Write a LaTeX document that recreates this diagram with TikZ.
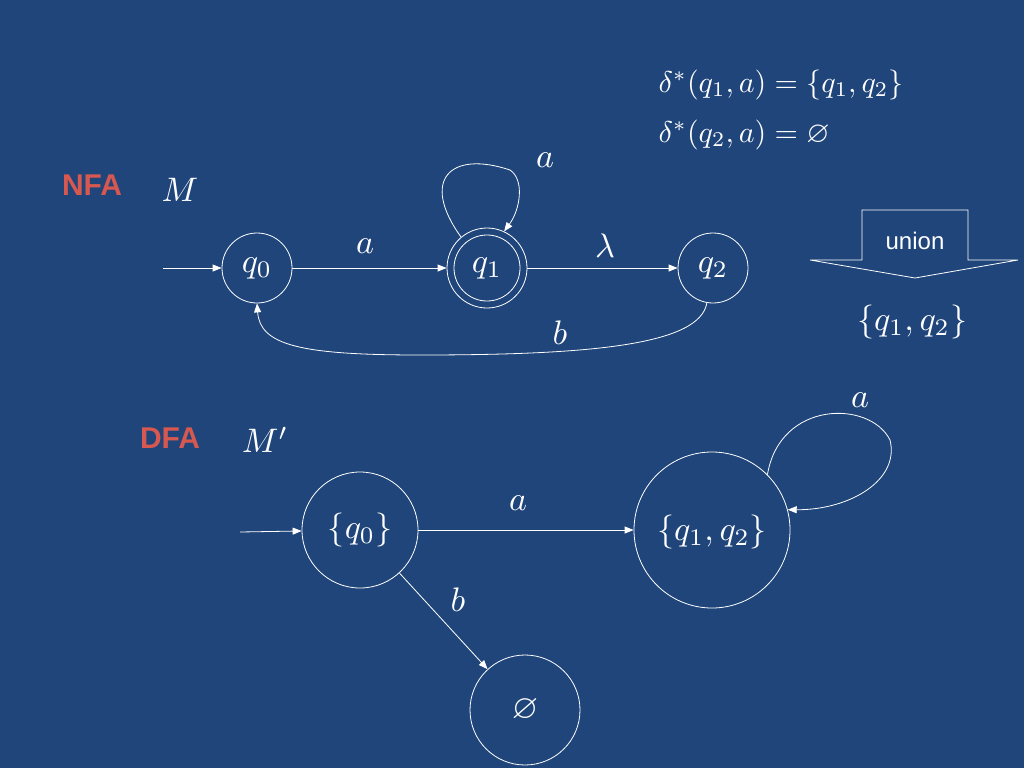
\documentclass[tikz,border=0pt]{standalone}
\usepackage{graphicx}
\usepackage{amssymb}
\usepackage{fontspec}
\newfontfamily\lab{Liberation Sans}
\newcommand\mm[1]{\scalebox{3.4}{$#1$}}
\newcommand\mf[1]{\scalebox{3}{$#1$}}
\usetikzlibrary{arrows.meta,shapes.arrows}
\definecolor{bg}{RGB}{31,69,122}
\definecolor{rd}{RGB}{214,88,80}
\begin{document}
\begin{tikzpicture}[x=1pt,y=-1pt,white,line width=0.8pt,
  st/.style={draw=white,circle,inner sep=0pt},
  ar/.style={-{Triangle[length=9pt,width=7pt]}},
  lb/.style={text=white},
  tag/.style={text=rd,font=\lab\bfseries\fontsize{30}{34}\selectfont}]
\fill[bg] (0,0) rectangle (1024,768);
\useasboundingbox (0,0) rectangle (1024,768);
% NFA
\node[tag] (nfa) at (92,185) {NFA};
\node[lb] (m) at (180,190) {\mm{M}};
\node[st,minimum size=70pt] (q0) at (257,268) {};
\node[lb] at (257,268) {\mm{q_0}};
\node[st,minimum size=80pt] (q1) at (487,268) {};
\node[st,minimum size=66pt] at (487,268) {};
\node[lb] at (487,268) {\mm{q_1}};
\node[st,minimum size=70pt] (q2) at (713,268) {};
\node[lb] at (713,268) {\mm{q_2}};
\coordinate (s0) at (163,268);
\draw[ar] (s0) -- (q0);
\draw[ar] (q0) -- (q1);
\draw[ar] (q1) -- (q2);
\draw[ar] (q1.130) .. controls (420,180) and (450,150) .. (510,170) .. controls (525,180) and (520,210).. (q1.65);
\draw[ar] (q2.-100) .. controls (700,345) and (590,355) .. (420,355) .. controls (300,355) and (260,345) .. (q0.-90);
\node[lb] at (365,246) {\mm{a}};
\node[lb] at (605,246) {\mm{\lambda}};
\node[lb] at (560,333) {\mm{b}};
\node[lb] at (545,160) {\mm{a}};
% formula
\node[lb,anchor=west] (f1) at (655,85) {\mf{\delta^{*}(q_1,a)=\{q_1,q_2\}}};
\node[lb,anchor=west] (f2) at (655,135) {\mf{\delta^{*}(q_2,a)=\varnothing}};
% union
\draw[fill=bg] (862,210) -- (968,210) -- (968,260) -- (1018,260) -- (915,278) -- (810,260) -- (862,260) -- cycle;
\node[text=white,font=\lab\fontsize{24}{28}\selectfont] (un) at (915,241) {union};
\node[lb] (u) at (912,322) {\mm{\{q_1,q_2\}}};
% DFA
\node[tag] (dfa) at (170,438) {DFA};
\node[lb] (mp) at (265,440) {\mm{M'}};
\node[st,minimum size=116pt] (d0) at (360,530) {};
\node[lb] at (360,530) {\mm{\{q_0\}}};
\node[st,minimum size=156pt] (d1) at (712,530) {};
\node[lb] at (712,532) {\mm{\{q_1,q_2\}}};
\node[st,minimum size=110pt] (de) at (525,710) {};
\node[lb] at (525,710) {\mm{\varnothing}};
\coordinate (s1) at (240,532);
\draw[ar] (s1) -- (d0);
\draw[ar] (d0) -- (d1);
\draw[ar] (d0) -- (de);
\draw[ar] (d1.45) .. controls (780,400) and (870,400) .. (890,440) .. controls (900,480) and (850,510) .. (d1.15);
\node[lb] at (518,503) {\mm{a}};
\node[lb] at (458,600) {\mm{b}};
\node[lb] at (860,400) {\mm{a}};
\end{tikzpicture}
\end{document}
